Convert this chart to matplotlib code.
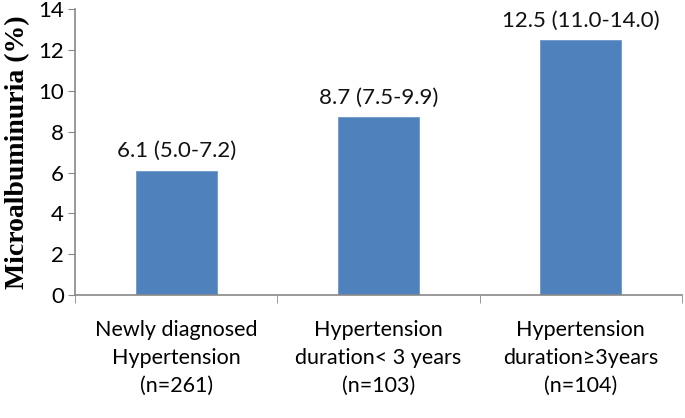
import matplotlib
matplotlib.use('Agg')
import matplotlib.pyplot as plt

# data
categories = ['Newly diagnosed\nHypertension\n(n=261)',
              'Hypertension\nduration< 3 years\n(n=103)',
              'Hypertension\nduration\u22653years\n(n=104)']
values = [6.1, 8.7, 12.5]
bar_labels = ['6.1 (5.0-7.2)', '8.7 (7.5-9.9)', '12.5 (11.0-14.0)']
yticks = [0, 2, 4, 6, 8, 10, 12, 14]

plt.rcParams['font.family'] = ['Lato', 'DejaVu Sans']

fig = plt.figure(figsize=(6.85, 4.18), dpi=100)
ax = fig.add_axes([0.1095, 0.294, 0.886, 0.684])

x = range(len(values))
ax.bar(x, values, width=0.4, color='#4f81bd', edgecolor='#6f97c9', linewidth=0.6)

for i, v in enumerate(values):
    ax.text(i, v + 0.45, bar_labels[i], ha='center', va='bottom', fontsize=16, color='#111111')

ax.set_xlim(-0.5, 2.5)
ax.set_ylim(0, 14)
ax.set_yticks(yticks)
ax.tick_params(axis='y', labelsize=16, length=5, color='#888888', pad=3)

ax.set_xticks(list(x))
ax.set_xticklabels(categories, fontsize=15.5, linespacing=1.5)
ax.tick_params(axis='x', which='major', length=0, pad=18)
ax.set_xticks([-0.5, 0.5, 1.5, 2.5], minor=True)
ax.tick_params(axis='x', which='minor', length=6, color='#888888')

for s in ['top', 'right']:
    ax.spines[s].set_visible(False)
for s in ['left', 'bottom']:
    ax.spines[s].set_color('#888888')
    ax.spines[s].set_linewidth(1.2)

ax.set_ylabel('Microalbuminuria (%)', fontsize=20, fontweight='bold',
              family='Liberation Serif', labelpad=6)

fig.savefig('out.png', dpi=100)
